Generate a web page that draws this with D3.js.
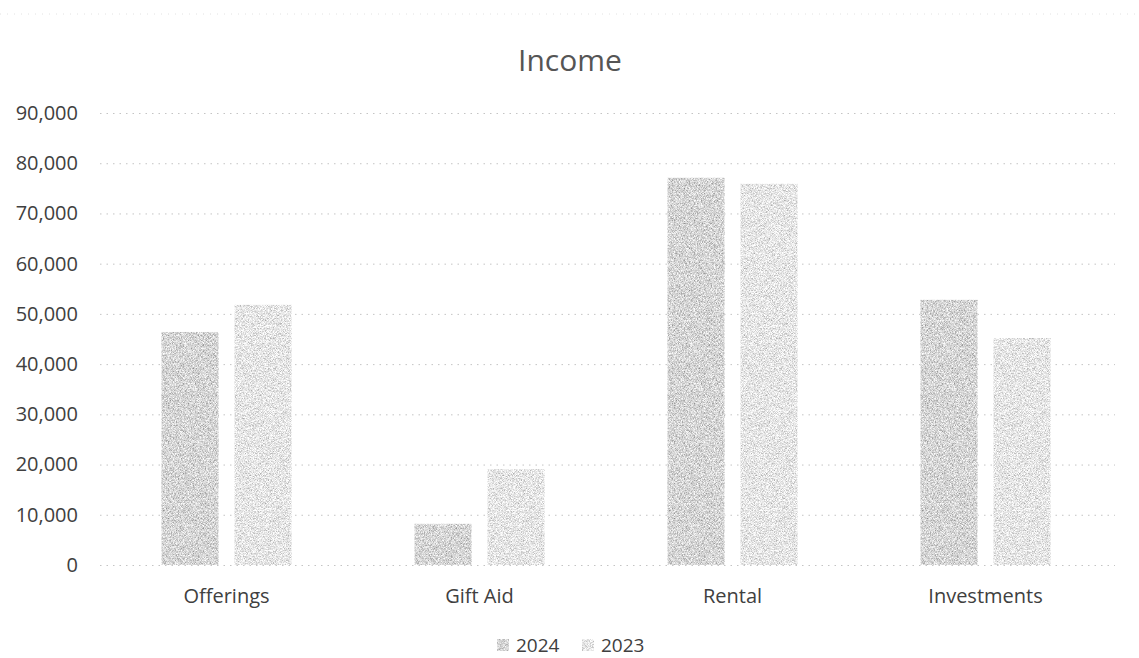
<!DOCTYPE html>
<html>
<head>
<meta charset="utf-8">
<script src="https://cdn.jsdelivr.net/npm/d3@7"></script>
<style>
  html, body { margin: 0; padding: 0; background: #fff; }
  svg { display: block; font-family: "Open Sans", "Noto Sans", sans-serif; }
</style>
</head>
<body>
<div id="chart"></div>
<script>
const categories = ["Offerings", "Gift Aid", "Rental", "Investments"];
const years = ["2024", "2023"];
const values2024 = [46400, 8200, 77100, 52800];
const values2023 = [51800, 19100, 75900, 45200];
const yTicks = [0, 10000, 20000, 30000, 40000, 50000, 60000, 70000, 80000, 90000];

var w = 1139,
    h = 658;

var margin = {left: 100, right: 27, top: 113, bottom: 93};

var colors = {"2024": "#a9a9a9", "2023": "#c8c8c8"};
var greyLevel = {"2024": 0.67, "2023": 0.79};

var rows = categories.map(function (c, i) {
    return {cat: c, vals: {"2024": values2024[i], "2023": values2023[i]}};
});

var svg = d3.select("#chart").append("svg")
    .attr("width", w)
    .attr("height", h);

// grainy fill, like the scanned original
var defs = svg.append("defs");
years.forEach(function (yr) {
    var k = 1.3, b = greyLevel[yr] - k * 0.5;
    var f = defs.append("filter")
        .attr("id", "grain" + yr)
        .attr("x", 0).attr("y", 0).attr("width", 1).attr("height", 1);
    f.append("feTurbulence")
        .attr("type", "fractalNoise")
        .attr("baseFrequency", 1.4)
        .attr("numOctaves", 1)
        .attr("seed", yr === "2024" ? 3 : 7)
        .attr("result", "noise");
    f.append("feColorMatrix")
        .attr("in", "noise")
        .attr("type", "matrix")
        .attr("values", [k, 0, 0, 0, b, k, 0, 0, 0, b, k, 0, 0, 0, b, 0, 0, 0, 0, 1].join(" "))
        .attr("result", "grey");
    f.append("feComposite")
        .attr("in", "grey")
        .attr("in2", "SourceAlpha")
        .attr("operator", "in");
});

// faint top border of the chart area
svg.append("line")
    .attr("x1", 0).attr("x2", w)
    .attr("y1", 14).attr("y2", 14)
    .attr("stroke", "#e2e2e2")
    .attr("stroke-dasharray", "1,6");

var x0 = d3.scaleBand()
    .domain(categories)
    .range([margin.left, w - margin.right])
    .paddingInner(0.486)
    .paddingOuter(0.243);

var x1 = d3.scaleBand()
    .domain(years)
    .range([0, x0.bandwidth()])
    .paddingInner(0.219);

var y = d3.scaleLinear()
    .domain([0, 90000])
    .range([h - margin.bottom, margin.top]);

// gridlines
svg.append("g")
    .selectAll("line")
    .data(yTicks)
    .enter()
    .append("line")
    .attr("x1", margin.left)
    .attr("x2", w - margin.right + 3)
    .attr("y1", function (d) { return y(d) + 0.5; })
    .attr("y2", function (d) { return y(d) + 0.5; })
    .attr("stroke", "#c4c4c4")
    .attr("stroke-width", 1)
    .attr("stroke-dasharray", "1.5,5");

// y axis labels
var yAxis = d3.axisLeft(y)
    .tickValues(yTicks)
    .tickSize(0)
    .tickPadding(22)
    .tickFormat(d3.format(","));

svg.append("g")
    .attr("transform", "translate(" + margin.left + ",0)")
    .call(yAxis)
    .call(function (g) { g.select(".domain").remove(); })
    .selectAll("text")
    .attr("font-size", 20)
    .attr("font-family", "'Open Sans', sans-serif")
    .attr("fill", "#404040");

// bars
var groups = svg.append("g")
    .selectAll("g")
    .data(rows)
    .enter()
    .append("g")
    .attr("transform", function (d) { return "translate(" + x0(d.cat) + ",0)"; });

groups.selectAll("rect")
    .data(function (d) {
        return years.map(function (yr) { return {year: yr, value: d.vals[yr]}; });
    })
    .enter()
    .append("rect")
    .attr("x", function (d) { return x1(d.year); })
    .attr("y", function (d) { return y(d.value); })
    .attr("width", x1.bandwidth())
    .attr("height", function (d) { return y(0) - y(d.value); })
    .style("fill", function (d) { return colors[d.year]; })
    .attr("filter", function (d) { return "url(#grain" + d.year + ")"; });

// category labels
var xAxis = d3.axisBottom(x0)
    .tickSize(0)
    .tickPadding(24);

svg.append("g")
    .attr("transform", "translate(0," + y(0) + ")")
    .call(xAxis)
    .call(function (g) { g.select(".domain").remove(); })
    .selectAll("text")
    .attr("font-size", 20)
    .attr("font-family", "'Open Sans', sans-serif")
    .attr("fill", "#404040");

// title
svg.append("text")
    .attr("x", 570)
    .attr("y", 71)
    .attr("text-anchor", "middle")
    .attr("font-size", 30)
    .attr("fill", "#555")
    .text("Income");

// legend
var legend = svg.append("g")
    .attr("transform", "translate(497,646)");

var legendItems = legend.selectAll("g")
    .data(years)
    .enter()
    .append("g")
    .attr("transform", function (d, i) { return "translate(" + (i * 85) + ",0)"; });

legendItems.append("rect")
    .attr("x", 0)
    .attr("y", -7)
    .attr("width", 12)
    .attr("height", 12)
    .style("fill", function (d) { return colors[d]; })
    .attr("filter", function (d) { return "url(#grain" + d + ")"; });

legendItems.append("text")
    .attr("x", 19)
    .attr("y", 6)
    .attr("font-size", 19)
    .attr("fill", "#404040")
    .text(function (d) { return d; });
</script>
</body>
</html>
